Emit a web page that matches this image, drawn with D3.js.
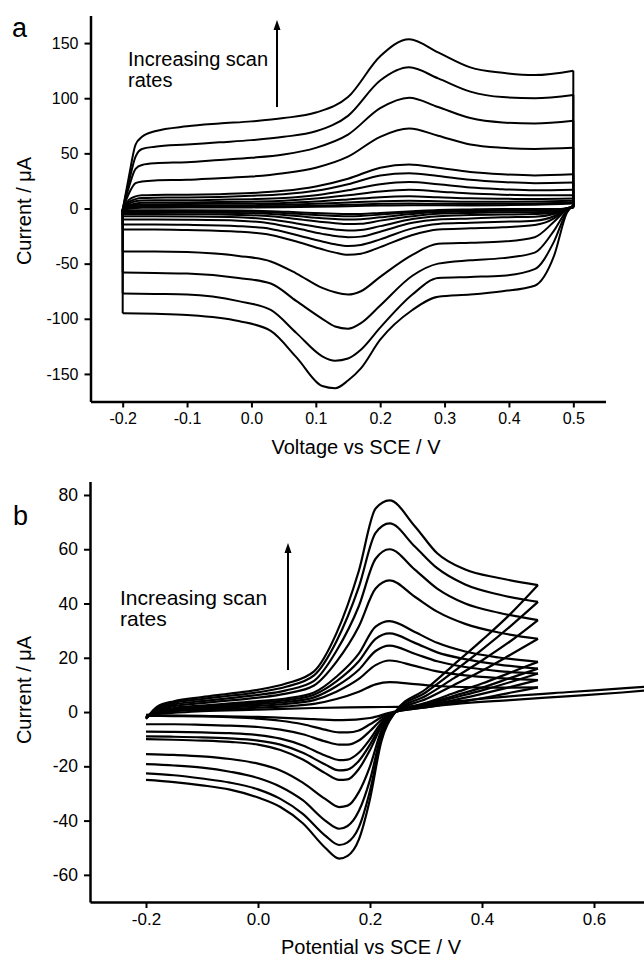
<!DOCTYPE html>
<html>
<head>
<meta charset="UTF-8">
<title>CV scan rates</title>
<script src="https://d3js.org/d3.v7.min.js"></script>
<style>
  * { margin: 0; padding: 0; }
  body { background: #fff; }
  svg { display: block; font-family: "Liberation Sans", Arial, sans-serif; }
</style>
</head>
<body>
<div id="chart"></div>
<script>
// ---- panel a : potentials (V) and currents (uA) per scan rate, largest first
const aFwdV = [-0.2, -0.19, -0.18, -0.17, -0.15, -0.1, -0.05, 0, 0.05, 0.1, 0.15, 0.2, 0.245, 0.29, 0.34, 0.39, 0.44, 0.5];
const aFwdI = [
  [-1, 30, 58, 65, 70, 74.5, 77, 79, 82, 87, 101, 138, 153.5, 141.5, 128, 123, 121, 125],
  [-1, 25, 47, 54, 56, 58, 60, 62, 65, 70, 84, 116, 128, 118, 106, 101, 100, 103],
  [-1, 20, 36, 39.5, 41, 42, 44, 46, 49, 55, 67, 91, 100.5, 92, 82, 78, 77, 79.5],
  [-1, 14, 23, 24.5, 25.5, 26, 27.5, 29, 32, 37, 47, 65, 72.5, 66, 58, 55, 54, 55],
  [-1, 8, 11, 12, 12.3, 12.5, 13, 14, 16, 20, 27, 37, 40, 37, 33, 31, 30, 31],
  [-1, 6, 8.5, 9.5, 9.8, 10, 10.5, 11.5, 13, 16, 22, 30, 32, 29.5, 26, 24, 23, 23.5],
  [-1, 4.5, 6.5, 7.2, 7.4, 7.5, 8, 8.5, 9.5, 12, 16.5, 22, 24, 22, 19, 17.5, 16.5, 17],
  [-1, 3, 4.5, 5.2, 5.4, 5.5, 5.8, 6.2, 7, 9, 12, 15.5, 17, 15.5, 13.5, 12.5, 12, 12],
  [-1, 2, 3.2, 3.7, 3.9, 4, 4.2, 4.5, 5, 6.3, 8.2, 10.3, 11, 10.2, 9.2, 8.8, 8.6, 9],
  [-1, 1, 2, 2.3, 2.4, 2.5, 2.7, 3, 3.4, 4.2, 5.4, 6.6, 7, 6.6, 6.2, 6.2, 6.3, 7],
  [-1, 0.3, 1, 1.3, 1.4, 1.5, 1.6, 1.8, 2.1, 2.6, 3.4, 4.2, 4.5, 4.3, 4.1, 4.2, 4.6, 5.5],
  [-1, 0, 0.5, 0.7, 0.75, 0.8, 0.9, 1, 1.2, 1.6, 2.1, 2.7, 3, 2.9, 2.8, 3, 3.4, 4.5]
];
const aRevV = [0.5, 0.49, 0.47, 0.44, 0.39, 0.34, 0.29, 0.25, 0.2, 0.17, 0.15, 0.13, 0.11, 0.07, 0.03, -0.02, -0.1, -0.15, -0.2];
const aRevI = [
  [3, -4, -43, -70, -75, -78, -80, -92, -119, -145, -156, -163, -161, -135, -111, -102, -96.5, -95.5, -95],
  [3, -3, -30, -55, -61, -62, -63, -78, -108, -128, -136, -138, -134, -113, -92, -84, -78, -77.5, -77],
  [2.5, -2, -20, -40, -45, -47, -50, -61, -88, -104, -109, -107, -100, -84, -68, -63, -59, -58.5, -58],
  [2, -1, -12, -26, -30, -31, -32, -42, -62, -75, -78, -76, -72, -59, -48, -43, -39.5, -39, -39],
  [2, 0, -9, -15, -17, -18, -19, -24, -35, -41, -42, -40, -37, -30, -24, -21, -19.5, -19, -19],
  [2, 0, -7, -11, -12, -13, -14, -18, -28, -33, -34, -32.5, -30, -24, -18.5, -16, -14.8, -14.5, -14.5],
  [1.5, 0, -5, -7.5, -8, -9, -10, -13, -21, -25.5, -26, -25, -23, -18, -13.5, -11, -10.2, -10, -10],
  [1.5, 0, -4, -5, -5.5, -6, -7, -9.5, -16, -19.5, -20, -19, -17.5, -13.5, -10, -8, -7.2, -7, -7],
  [1, 0, -3, -3.3, -3.5, -4, -4.8, -7, -11, -13.8, -14, -13.3, -12.3, -9.5, -7, -5.8, -5.2, -5, -5],
  [1, 0, -2, -2, -2, -2.5, -3.2, -5, -8, -9.8, -10, -9.5, -8.8, -6.8, -5, -4, -3.6, -3.5, -3.5],
  [1, 0, -1, -1, -1, -1.5, -2.2, -3.5, -5.5, -6.8, -7, -6.7, -6.2, -4.8, -3.5, -2.8, -2.5, -2.5, -2.5],
  [0.8, 0, -0.5, -0.5, -0.5, -0.8, -1.3, -2.5, -4, -4.9, -5, -4.8, -4.4, -3.4, -2.4, -1.8, -1.6, -1.5, -1.5]
];
const aXMajor = [-0.2, -0.1, 0.0, 0.1, 0.2, 0.3, 0.4, 0.5];
const aXMinor = [-0.25, -0.15, -0.05, 0.05, 0.15, 0.25, 0.35, 0.45, 0.55];
const aYMajor = [-150, -100, -50, 0, 50, 100, 150];
const aYMinor = [-125, -75, -25, 25, 75, 125];

// ---- panel b
const bFwdV = [-0.2, -0.18, -0.15, -0.1, -0.05, 0, 0.05, 0.1, 0.14, 0.18, 0.21, 0.235, 0.28, 0.32, 0.37, 0.43, 0.5];
const bFwdI = [
  [-2.5, 2, 4, 5.5, 6.8, 8.2, 10.5, 15, 29, 52, 75, 78, 68.5, 58.5, 52.5, 49.4, 46.8],
  [-2.5, 1.5, 3.4, 4.8, 6, 7.3, 9.3, 13.5, 26, 46, 66, 69.5, 61, 53, 47, 43.3, 40.6],
  [-2.3, 1, 2.8, 4, 5.1, 6.3, 8, 11.5, 22.5, 39, 56.5, 60, 52.5, 45.5, 40, 36.6, 33.9],
  [-2.2, 0.6, 2.2, 3.3, 4.3, 5.3, 6.8, 9.8, 18.5, 31.5, 45.5, 48.5, 42.5, 37, 32.5, 29.3, 27],
  [-2, 0.2, 1.5, 2.4, 3.2, 4, 5, 7.2, 13, 21.5, 31.5, 33.5, 29.5, 25.5, 22.3, 20.1, 18.5],
  [-2, 0, 1.2, 2, 2.8, 3.5, 4.4, 6.4, 11.3, 18.7, 27, 29, 25.5, 22, 19.5, 17.5, 16],
  [-1.8, -0.2, 0.9, 1.6, 2.3, 2.9, 3.7, 5.4, 9.5, 15.6, 22.5, 24.5, 21.5, 18.7, 16.6, 15.1, 14.2],
  [-1.8, -0.4, 0.6, 1.2, 1.8, 2.3, 3, 4.4, 7.5, 12.2, 17.3, 19, 17, 15, 13.5, 12.5, 11.8],
  [-1.5, -0.6, 0.3, 0.8, 1.2, 1.6, 2.1, 3, 4.8, 7.5, 10.2, 11, 10.3, 9.6, 9.2, 9, 9.1]
];
const bRevV = [0.5, 0.45, 0.4, 0.35, 0.3, 0.245, 0.22, 0.2, 0.18, 0.16, 0.145, 0.12, 0.08, 0.04, 0, -0.05, -0.1, -0.15, -0.2];
const bRevI = [
  [46.8, 36, 26.5, 17.5, 8.5, 0, -11, -32, -47, -53, -54, -50, -41, -35, -31.5, -28.6, -27, -25.8, -25],
  [40.6, 31.5, 23, 15, 7.3, 0, -10, -29, -42.5, -48, -49, -45.5, -37.5, -32, -28.5, -26, -24.5, -23.3, -22.6],
  [33.9, 26, 19, 12.5, 6, 0, -8.5, -25, -36.5, -42, -43, -40, -32.5, -27.5, -24.3, -22, -20.5, -19.7, -19.2],
  [27, 21, 15.2, 10, 4.8, 0, -7, -20, -29.5, -34.5, -35, -32, -26, -21.5, -19, -17.3, -16.3, -15.8, -15.5],
  [18.5, 14.5, 10.5, 7, 3.4, 0, -5.5, -14, -21, -24.8, -25, -22.5, -17.5, -14, -12, -11, -10.5, -10.2, -10],
  [16, 12.5, 9, 6, 3, 0, -4.8, -12, -18, -21.2, -21.5, -19.3, -15, -12, -10.5, -9.7, -9.3, -9.1, -9],
  [14.2, 11, 8, 5.3, 2.6, 0, -4, -10, -15, -17.5, -17.7, -16, -12.3, -9.8, -8.5, -7.8, -7.5, -7.3, -7.2],
  [11.8, 9.2, 6.7, 4.4, 2.2, 0, -3, -7, -10.5, -12, -12, -10.8, -8.2, -6.5, -5.5, -5, -4.7, -4.5, -4.5],
  [9.1, 7.1, 5.1, 3.4, 1.7, 0, -2, -4.5, -6.8, -7.5, -7.5, -6.5, -4.5, -3.2, -2.4, -1.9, -1.6, -1.5, -1.4]
];
// slow sweep that runs past 0.7 V
const bLongFwdV = [-0.2, -0.1, 0, 0.1, 0.2, 0.27, 0.35, 0.45, 0.55, 0.65, 0.72];
const bLongFwdI = [-1, 0.3, 0.9, 1.5, 1.8, 2, 3.9, 5.8, 7.3, 8.7, 9.7];
const bLongRevV = [0.72, 0.65, 0.55, 0.45, 0.35, 0.27, 0.24, 0.2, 0.15, 0.1, 0, -0.1, -0.2];
const bLongRevI = [8.4, 7.2, 5.8, 4.4, 2.9, 1, 0, -2.2, -3, -2.6, -1.8, -1.4, -1.2];
const bXMajor = [-0.2, 0.0, 0.2, 0.4, 0.6];
const bXMinor = [-0.3, -0.1, 0.1, 0.3, 0.5, 0.7];
const bYMajor = [-60, -40, -20, 0, 20, 40, 60, 80];
const bYMinor = [-70, -50, -30, -10, 10, 30, 50, 70];

const W = 644, H = 960;
const svg = d3.select("#chart").append("svg")
  .attr("width", W).attr("height", H);

const pts = (V, I) => V.map((v, i) => [v, I[i]]);
// plain hyphen for negatives, as in the original figure
const fmtX = d => d3.format(".1f")(d).replace("\u2212", "-");
const fmtY = d => d3.format("d")(d).replace("\u2212", "-");

function axes(g, x, y, o) {
  const xa = g.append("g").attr("transform", `translate(0,${y.range()[0]})`);
  xa.call(d3.axisBottom(x).tickValues(o.xMinor).tickFormat("").tickSize(4).tickSizeOuter(0));
  xa.call(d3.axisBottom(x).tickValues(o.xMajor).tickSize(6).tickSizeOuter(0).tickPadding(5)
    .tickFormat(fmtX));
  xa.selectAll(".tick text").attr("font-size", o.xFont);
  const ya = g.append("g").attr("transform", `translate(${x.range()[0]},0)`);
  ya.call(d3.axisLeft(y).tickValues(o.yMinor).tickFormat("").tickSize(4).tickSizeOuter(0));
  ya.call(d3.axisLeft(y).tickValues(o.yMajor).tickSize(6).tickSizeOuter(0).tickPadding(6)
    .tickFormat(fmtY));
  ya.selectAll(".tick text").attr("font-size", o.yFont);
  g.selectAll(".domain").attr("stroke-width", 2.5);
  g.selectAll(".tick line").attr("stroke-width", 2);
  g.selectAll(".tick text").attr("fill", "#000")
    .attr("font-family", "Liberation Sans, Arial, sans-serif");
}

function arrow(g, x0, yBottom, yTop) {
  g.append("line").attr("x1", x0).attr("x2", x0).attr("y1", yBottom).attr("y2", yTop + 8)
    .attr("stroke", "#000").attr("stroke-width", 2);
  g.append("path").attr("d", `M${x0},${yTop} L${x0 - 3.5},${yTop + 10} L${x0 + 3.5},${yTop + 10} Z`)
    .attr("fill", "#000");
}

// ---------- panel a ----------
{
  const x = d3.scaleLinear().domain([-0.25, 0.55]).range([90.5, 605.5]);
  const y = d3.scaleLinear().domain([-175, 175]).range([401.5, 15.5]);
  const g = svg.append("g");
  const mono = d3.line().x(d => x(d[0])).y(d => y(d[1])).curve(d3.curveMonotoneX);
  const lin = d3.line().x(d => x(d[0])).y(d => y(d[1]));

  aFwdI.forEach((fi, k) => {
    const fw = pts(aFwdV, fi);
    const rv = pts(aRevV, aRevI[k]);
    const p = g.append("g").attr("fill", "none").attr("stroke", "#000")
      .attr("stroke-width", 2).attr("stroke-linejoin", "round");
    p.append("path").attr("d", mono(fw));
    p.append("path").attr("d", mono(rv.slice().reverse()));
    p.append("path").attr("d", lin([fw[fw.length - 1], rv[0]]));
    p.append("path").attr("d", lin([rv[rv.length - 1], fw[0]]));
  });

  axes(g, x, y, { xMajor: aXMajor, xMinor: aXMinor, yMajor: aYMajor, yMinor: aYMinor,
    xFont: "16px", yFont: "16px" });

  g.append("text").attr("x", 12).attr("y", 37).attr("font-size", 27).text("a");
  g.append("text").attr("x", 356).attr("y", 454).attr("text-anchor", "middle")
    .attr("font-size", 20).text("Voltage vs SCE / V");
  g.append("text").attr("transform", "translate(31,211) rotate(-90)").attr("text-anchor", "middle")
    .attr("font-size", 20).text("Current / \u03bcA");
  const t = g.append("text").attr("x", 128).attr("y", 66).attr("font-size", 20);
  t.append("tspan").attr("x", 128).text("Increasing scan");
  t.append("tspan").attr("x", 128).attr("dy", 21).text("rates");
  arrow(g, 277, 107, 20);
}

// ---------- panel b ----------
{
  const x = d3.scaleLinear().domain([-0.3, 0.7]).range([90, 650]);
  const y = d3.scaleLinear().domain([-70, 85]).range([902, 481.4]);
  const g = svg.append("g");
  const mono = d3.line().x(d => x(d[0])).y(d => y(d[1])).curve(d3.curveMonotoneX);
  const lin = d3.line().x(d => x(d[0])).y(d => y(d[1]));

  const drawLoop = (fw, rv) => {
    const p = g.append("g").attr("fill", "none").attr("stroke", "#000")
      .attr("stroke-width", 2.2).attr("stroke-linejoin", "round");
    p.append("path").attr("d", mono(fw));
    p.append("path").attr("d", mono(rv.slice().reverse()));
    p.append("path").attr("d", lin([fw[fw.length - 1], rv[0]]));
  };
  drawLoop(pts(bLongFwdV, bLongFwdI), pts(bLongRevV, bLongRevI));
  bFwdI.forEach((fi, k) => drawLoop(pts(bFwdV, fi), pts(bRevV, bRevI[k])));

  axes(g, x, y, { xMajor: bXMajor, xMinor: bXMinor, yMajor: bYMajor, yMinor: bYMinor,
    xFont: "17px", yFont: "17.5px" });

  g.append("text").attr("x", 13).attr("y", 525).attr("font-size", 27).text("b");
  g.append("text").attr("x", 371).attr("y", 954).attr("text-anchor", "middle")
    .attr("font-size", 20).text("Potential vs SCE / V");
  g.append("text").attr("transform", "translate(31,690) rotate(-90)").attr("text-anchor", "middle")
    .attr("font-size", 20).text("Current / \u03bcA");
  const t = g.append("text").attr("x", 120).attr("y", 605).attr("font-size", 21);
  t.append("tspan").attr("x", 120).text("Increasing scan");
  t.append("tspan").attr("x", 120).attr("dy", 21).text("rates");
  arrow(g, 288, 670, 543);
}
</script>
</body>
</html>
